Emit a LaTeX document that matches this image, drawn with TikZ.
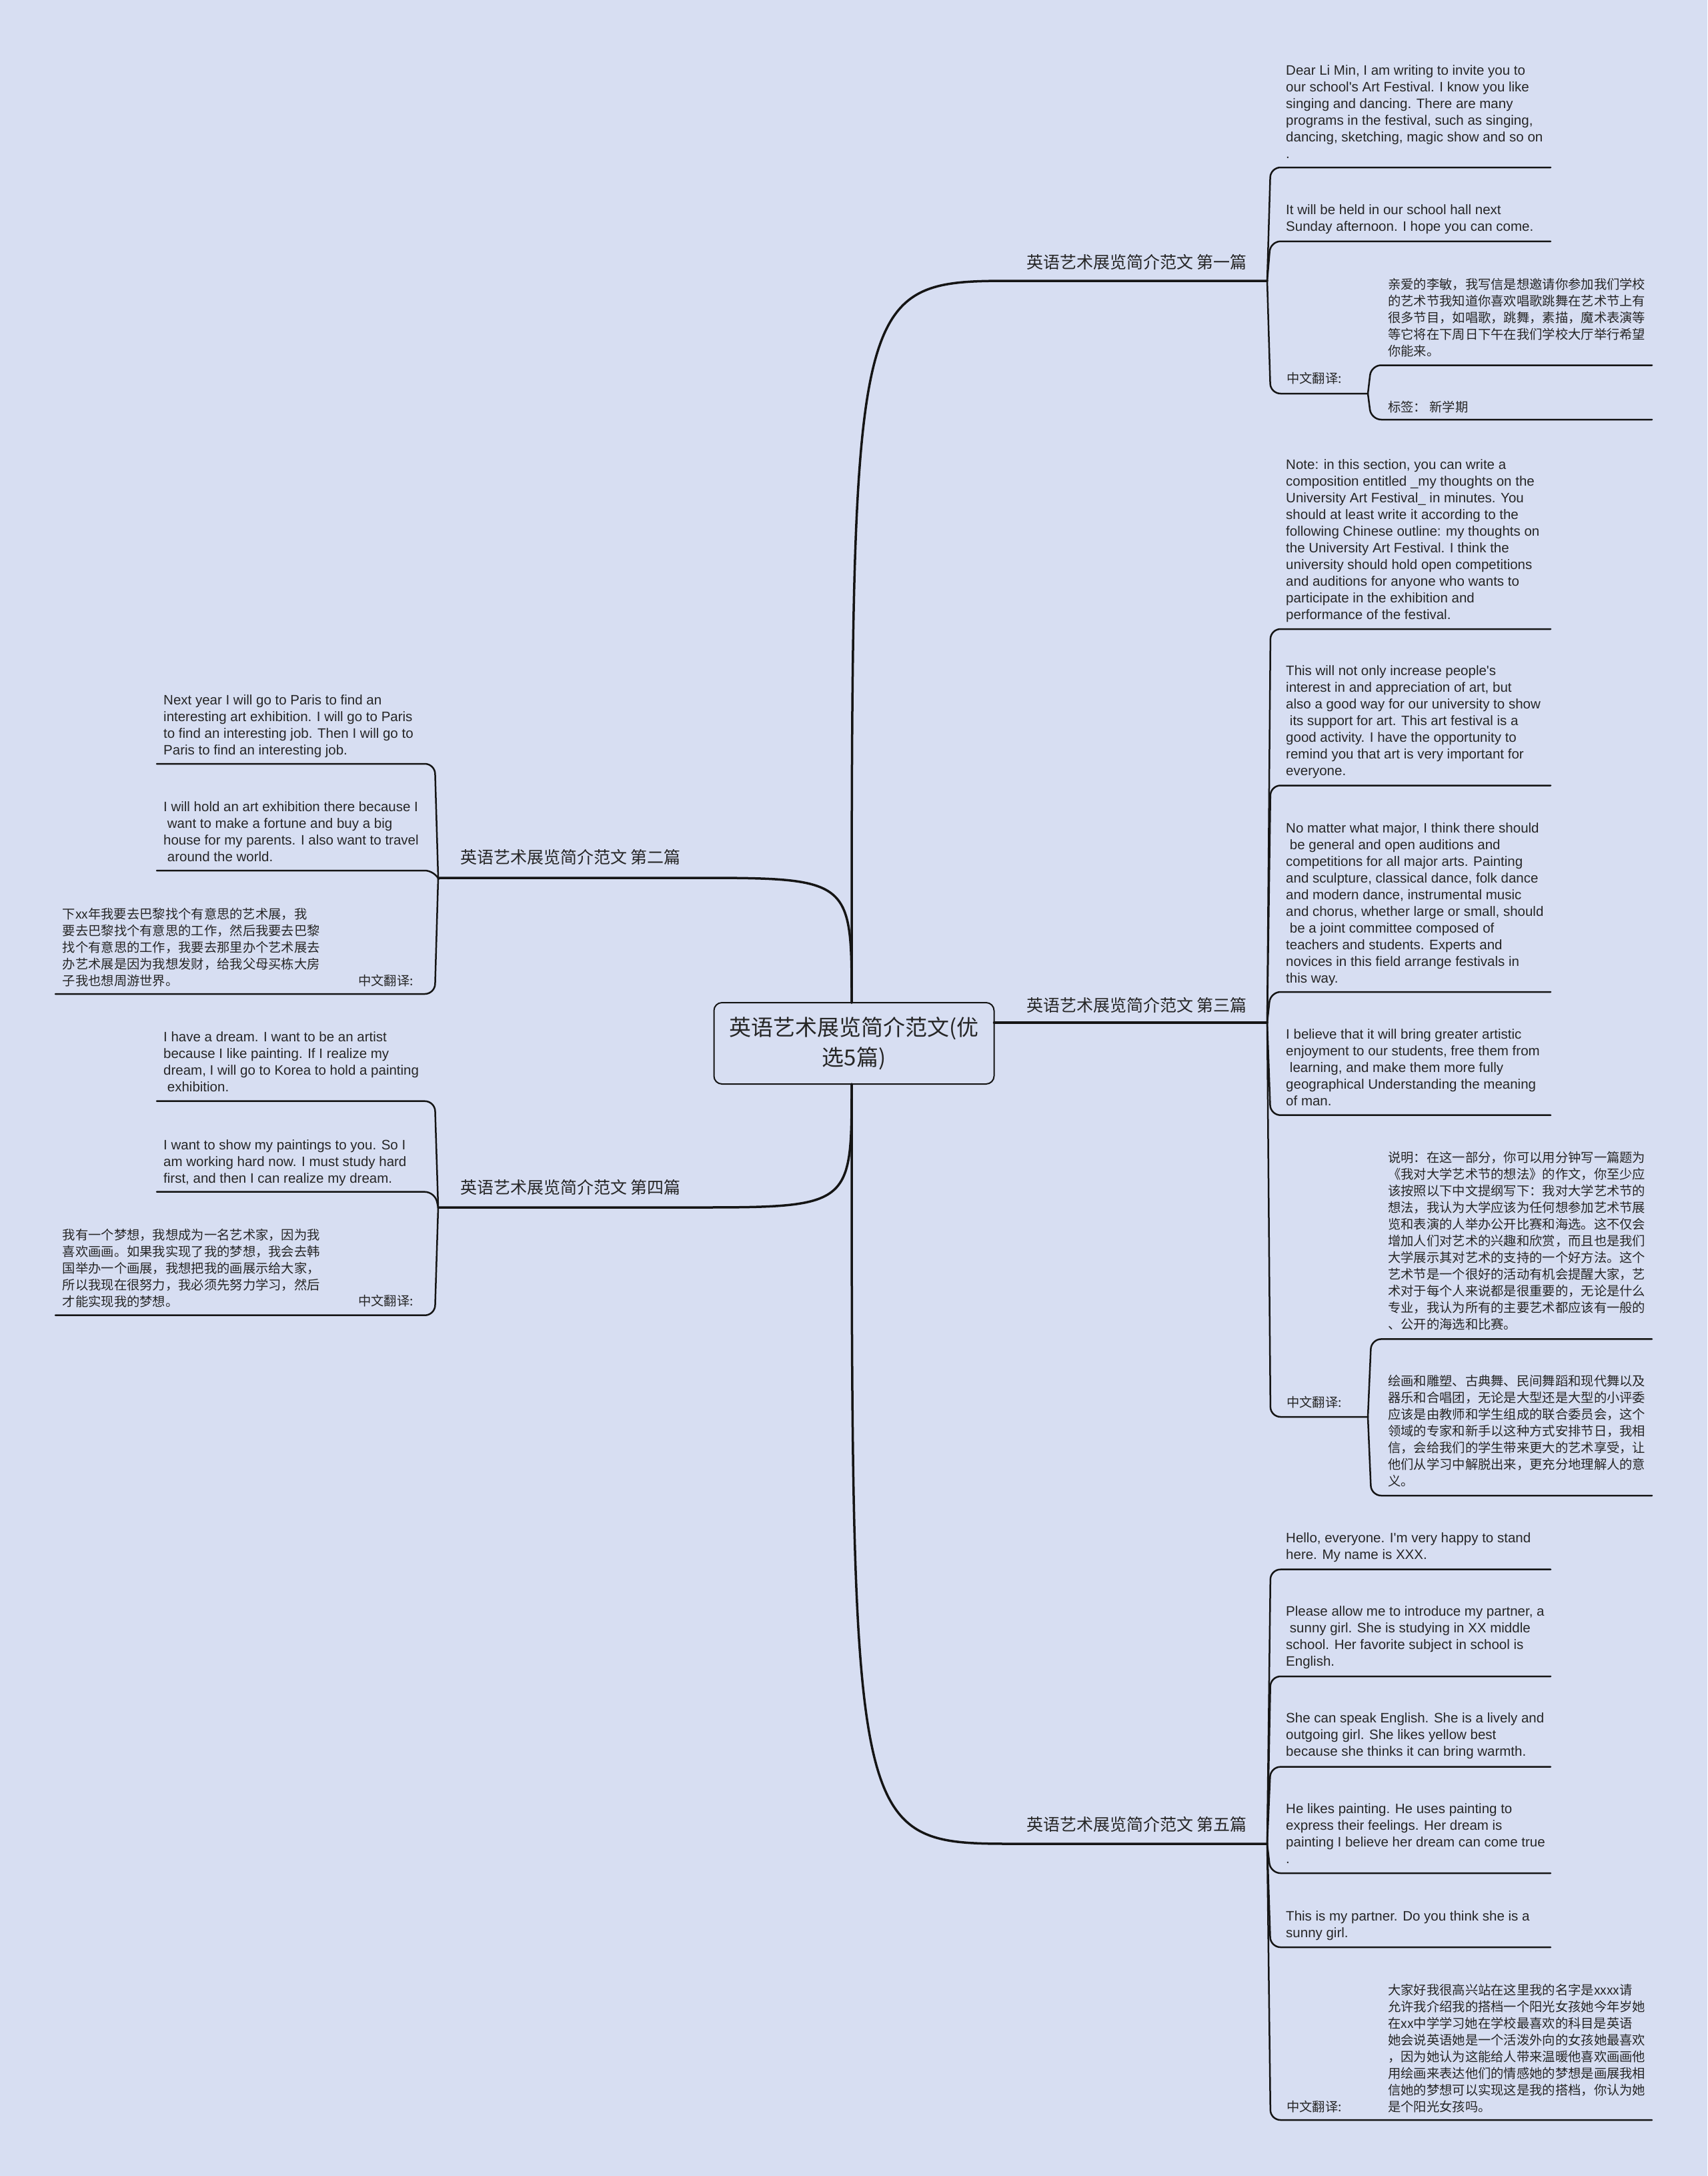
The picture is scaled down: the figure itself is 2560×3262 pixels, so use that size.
\documentclass[tikz,border=0pt]{standalone}
\usepackage{fontspec}
\newfontfamily\cjk{Noto Sans CJK SC}
\newfontfamily\enfont{Liberation Sans}
\definecolor{bgc}{HTML}{D7DEF2}
\definecolor{linec}{HTML}{151515}
\definecolor{textc}{HTML}{262626}
\newcommand\lsp{\hspace*{0.28em}}
\begin{document}
\begin{tikzpicture}[x=1pt,y=-1pt,
  ln/.style={line width=2.5pt, draw=linec, rounded corners=15pt, line cap=round},
  brl/.style={line width=3.5pt, draw=linec, line cap=round},
  en/.style={anchor=base west, inner sep=0pt, align=left, text=textc, font=\enfont\fontsize{20.5}{25}\selectfont},
  cn/.style={anchor=base west, inner sep=0pt, align=left, text=textc, font=\cjk\fontsize{19.3}{25}\selectfont},
  cnr/.style={cn, anchor=base east, align=right},
  lab/.style={anchor=base west, inner sep=0pt, text=textc, font=\cjk\fontsize{25}{30}\selectfont},
  rootst/.style={draw=linec, line width=2pt, rounded corners=12pt, fill=bgc, text=textc, align=center, font=\cjk\fontsize{33}{45}\selectfont, minimum width=420pt, minimum height=122pt, inner sep=0pt}
]
\useasboundingbox (0,0) rectangle (2560,3262);
\fill[bgc] (0,0) rectangle (2560,3262);

% root
\node[rootst] (root) at (1280.5,1564) {英语艺术展览简介范文(优\\选5篇)};
\coordinate (rtop) at (1277,1503);
\coordinate (rbot) at (1277,1625);
\coordinate (rright) at (1490.5,1533);

% branch junctions
\coordinate (j1) at (1900,421);
\coordinate (j2) at (657,1316);
\coordinate (j3) at (1900,1533);
\coordinate (j4) at (657,1810);
\coordinate (j5) at (1900,2764);

% branch connectors
\draw[brl] (rtop) .. controls (1277,421) and (1277,421) .. (1525,421) -- (j1);
\draw[brl] (rbot) .. controls (1277,2764) and (1277,2764) .. (1525,2764) -- (j5);
\draw[brl] (rtop) .. controls (1277,1316) and (1277,1316) .. (1035,1316) -- (j2);
\draw[brl] (rbot) .. controls (1277,1810) and (1277,1810) .. (1035,1810) -- (j4);
\draw[brl] (rright) -- (j3);

% branch labels
\node[lab] (l1) at (1539,402) {英语艺术展览简介范文 第一篇};
\node[lab] (l2) at (690,1294) {英语艺术展览简介范文 第二篇};
\node[lab] (l3) at (1539,1516) {英语艺术展览简介范文 第三篇};
\node[lab] (l4) at (690,1789) {英语艺术展览简介范文 第四篇};
\node[lab] (l5) at (1539,2744) {英语艺术展览简介范文 第五篇};

% ===== branch 1 =====
\node[en] (c1a) at (1928,237) {Dear Li Min, I am writing to invite you to\\our school's Art Festival. I know you like\\singing and dancing. There are many\\programs in the festival, such as singing,\\dancing, sketching, magic show and so on\\.};
\node[en] (c1b) at (1928,346.5) {It will be held in our school hall next\\Sunday afternoon. I hope you can come.};
\node[cn] (c1c) at (1929,574) {中文翻译:};
\node[cn] (c1c1) at (2081,533) {亲爱的李敏，我写信是想邀请你参加我们学校\\的艺术节我知道你喜欢唱歌跳舞在艺术节上有\\很多节目，如唱歌，跳舞，素描，魔术表演等\\等它将在下周日下午在我们学校大厅举行希望\\你能来。};
\node[cn] (c1c2) at (2081,617) {标签：\ 新学期};
\coordinate (k1c) at (2051,590);
\draw[ln] (j1) -- (1905,251) -- (2325,251);
\draw[ln] (j1) -- (1905,361.8) -- (2325,361.8);
\draw[ln] (j1) -- (1905,590) -- (k1c);
\draw[ln] (k1c) -- (2056,547.5) -- (2477,547.5);
\draw[ln] (k1c) -- (2056,629) -- (2477,629);

% ===== branch 2 =====
\node[en] (c2a) at (245,1131) {Next year I will go to Paris to find an\\interesting art exhibition. I will go to Paris\\to find an interesting job. Then I will go to\\Paris to find an interesting job.};
\node[en] (c2b) at (245,1291) {I will hold an art exhibition there because I\\\lsp want to make a fortune and buy a big\\house for my parents. I also want to travel\\\lsp around the world.};
\node[cnr] (c2c) at (620,1477) {中文翻译:};
\node[cn] (c2c1) at (93.6,1477) {下xx年我要去巴黎找个有意思的艺术展，我\\要去巴黎找个有意思的工作，然后我要去巴黎\\找个有意思的工作，我要去那里办个艺术展去\\办艺术展是因为我想发财，给我父母买栋大房\\子我也想周游世界。};
\draw[ln] (j2) -- (652,1145) -- (235,1145);
\draw[ln] (j2) -- (652,1305) -- (235,1305);
\draw[ln] (j2) -- (652,1490) -- (83,1490);

% ===== branch 3 =====
\node[en] (c3a) at (1928,928) {Note: in this section, you can write a\\composition entitled \_my thoughts on the\\University Art Festival\_ in minutes. You\\should at least write it according to the\\following Chinese outline: my thoughts on\\the University Art Festival. I think the\\university should hold open competitions\\and auditions for anyone who wants to\\participate in the exhibition and\\performance of the festival.};
\node[en] (c3b) at (1928,1162) {This will not only increase people's\\interest in and appreciation of art, but\\also a good way for our university to show\\\lsp its support for art. This art festival is a\\good activity. I have the opportunity to\\remind you that art is very important for\\everyone.};
\node[en] (c3c) at (1928,1473) {No matter what major, I think there should\\\lsp be general and open auditions and\\competitions for all major arts. Painting\\and sculpture, classical dance, folk dance\\and modern dance, instrumental music\\and chorus, whether large or small, should\\\lsp be a joint committee composed of\\teachers and students. Experts and\\novices in this field arrange festivals in\\this way.};
\node[en] (c3d) at (1928,1657) {I believe that it will bring greater artistic\\enjoyment to our students, free them from\\\lsp learning, and make them more fully\\geographical Understanding the meaning\\of man.};
\node[cn] (c3e) at (1929,2109) {中文翻译:};
\node[cn] (c3e1) at (2081,1992.5) {说明：在这一部分，你可以用分钟写一篇题为\\《我对大学艺术节的想法》的作文，你至少应\\该按照以下中文提纲写下：我对大学艺术节的\\想法，我认为大学应该为任何想参加艺术节展\\览和表演的人举办公开比赛和海选。这不仅会\\增加人们对艺术的兴趣和欣赏，而且也是我们\\大学展示其对艺术的支持的一个好方法。这个\\艺术节是一个很好的活动有机会提醒大家，艺\\术对于每个人来说都是很重要的，无论是什么\\专业，我认为所有的主要艺术都应该有一般的\\、公开的海选和比赛。};
\node[cn] (c3e2) at (2081,2227) {绘画和雕塑、古典舞、民间舞蹈和现代舞以及\\器乐和合唱团，无论是大型还是大型的小评委\\应该是由教师和学生组成的联合委员会，这个\\领域的专家和新手以这种方式安排节日，我相\\信，会给我们的学生带来更大的艺术享受，让\\他们从学习中解脱出来，更充分地理解人的意\\义。};
\coordinate (k3e) at (2051,2124);
\draw[ln] (j3) -- (1905,943) -- (2325,943);
\draw[ln] (j3) -- (1905,1177.5) -- (2325,1177.5);
\draw[ln] (j3) -- (1905,1487) -- (2325,1487);
\draw[ln] (j3) -- (1905,1671.7) -- (2325,1671.7);
\draw[ln] (j3) -- (1905,2124) -- (k3e);
\draw[ln] (k3e) -- (2056,2007.4) -- (2477,2007.4);
\draw[ln] (k3e) -- (2056,2242) -- (2477,2242);

% ===== branch 4 =====
\node[en] (c4a) at (245,1636) {I have a dream. I want to be an artist\\because I like painting. If I realize my\\dream, I will go to Korea to hold a painting\\\lsp exhibition.};
\node[en] (c4b) at (245,1773) {I want to show my paintings to you. So I\\am working hard now. I must study hard\\first, and then I can realize my dream.};
\node[cnr] (c4c) at (620,1957) {中文翻译:};
\node[cn] (c4c1) at (93.6,1958.5) {我有一个梦想，我想成为一名艺术家，因为我\\喜欢画画。如果我实现了我的梦想，我会去韩\\国举办一个画展，我想把我的画展示给大家，\\所以我现在很努力，我必须先努力学习，然后\\才能实现我的梦想。};
\draw[ln] (j4) -- (652,1650.7) -- (235,1650.7);
\draw[ln] (j4) -- (652,1786.7) -- (235,1786.7);
\draw[ln] (j4) -- (652,1971.7) -- (83,1971.7);

% ===== branch 5 =====
\node[en] (c5a) at (1928,2337) {Hello, everyone. I'm very happy to stand\\here. My name is XXX.};
\node[en] (c5b) at (1928,2497) {Please allow me to introduce my partner, a\\\lsp sunny girl. She is studying in XX middle\\school. Her favorite subject in school is\\English.};
\node[en] (c5c) at (1928,2632) {She can speak English. She is a lively and\\outgoing girl. She likes yellow best\\because she thinks it can bring warmth.};
\node[en] (c5d) at (1928,2793) {He likes painting. He uses painting to\\express their feelings. Her dream is\\painting I believe her dream can come true\\.};
\node[en] (c5e) at (1928,2904) {This is my partner. Do you think she is a\\sunny girl.};
\node[cn] (c5f) at (1929,3165) {中文翻译:};
\node[cn] (c5f1) at (2081,3165) {大家好我很高兴站在这里我的名字是xxxx请\\允许我介绍我的搭档一个阳光女孩她今年岁她\\在xx中学学习她在学校最喜欢的科目是英语\\她会说英语她是一个活泼外向的女孩她最喜欢\\，因为她认为这能给人带来温暖他喜欢画画他\\用绘画来表达他们的情感她的梦想是画展我相\\信她的梦想可以实现这是我的搭档，你认为她\\是个阳光女孩吗。};
\coordinate (k5f) at (2051,3178);
\draw[ln] (j5) -- (1905,2352.7) -- (2325,2352.7);
\draw[ln] (j5) -- (1905,2513) -- (2325,2513);
\draw[ln] (j5) -- (1905,2648.6) -- (2325,2648.6);
\draw[ln] (j5) -- (1905,2808) -- (2325,2808);
\draw[ln] (j5) -- (1905,2919) -- (2325,2919);
\draw[ln] (j5) -- (1905,3178) -- (k5f) -- (2477,3178);
\end{tikzpicture}
\end{document}
